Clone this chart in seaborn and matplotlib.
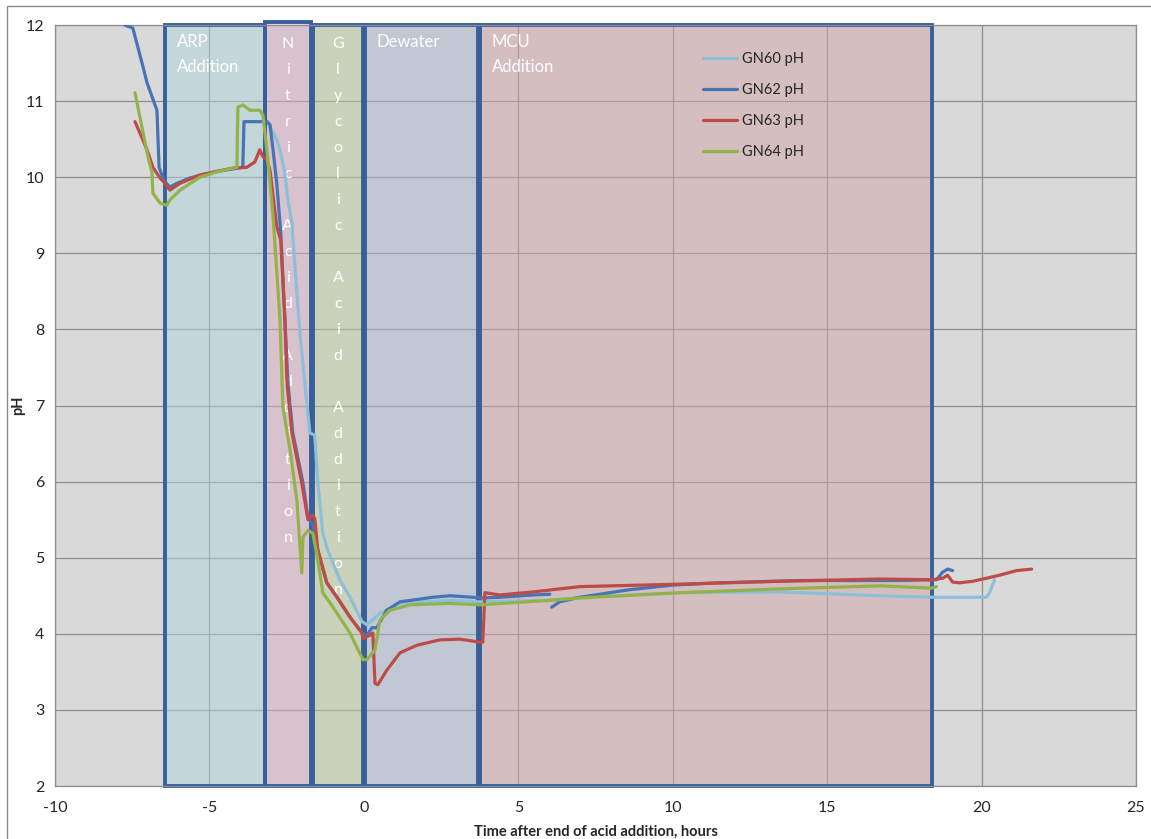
import numpy as np
import pandas as pd
import matplotlib
matplotlib.use("Agg")
import matplotlib.pyplot as plt
from matplotlib.patches import Rectangle
import seaborn as sns

# ---------------- data ----------------
series_names = ["GN60 pH", "GN62 pH", "GN63 pH", "GN64 pH"]

gn60_t = [-3.11, -2.82, -2.72, -2.56, -2.46, -2.33, -2.23, -2.07, -1.91, -1.75, -1.59, -1.49,
          -1.33, -1.17, -1.00, -0.78, -0.45, -0.06, 0.10, 0.36, 0.52, 1.17, 2.78, 3.75, 6.02,
          6.99, 10.23, 13.46, 16.70, 18.38, 20.16, 20.26, 20.42]
gn60_ph = [10.73, 10.49, 10.36, 10.06, 9.70, 9.40, 8.82, 7.95, 7.30, 6.64, 6.61, 5.98,
           5.32, 5.10, 4.93, 4.71, 4.48, 4.16, 4.12, 4.21, 4.27, 4.40, 4.44, 4.42, 4.44,
           4.48, 4.54, 4.55, 4.50, 4.48, 4.48, 4.54, 4.71]

gn62a_t = [-7.75, -7.48, -7.15, -7.02, -6.70, -6.63, -6.54, -6.44, -6.28, -6.05, -5.63, -4.82,
           -3.92, -3.88, -3.14, -3.04, -2.94, -2.82, -2.69, -2.56, -2.46, -2.30, -1.97, -1.81,
           -1.65, -1.49, -1.20, -0.87, -0.45, -0.06, 0.10, 0.26, 0.42, 0.74, 1.17, 2.23, 2.78,
           3.53, 3.82, 4.40, 5.47, 6.02]
gn62a_ph = [12.00, 11.96, 11.45, 11.24, 10.88, 10.13, 10.03, 9.94, 9.87, 9.92, 9.99, 10.07,
            10.13, 10.73, 10.73, 10.69, 10.36, 9.92, 9.27, 8.16, 7.30, 6.64, 5.98, 5.52,
            5.43, 5.10, 4.67, 4.48, 4.22, 4.01, 3.98, 4.08, 4.08, 4.31, 4.42, 4.48, 4.50,
            4.48, 4.47, 4.48, 4.51, 4.52]
gn62b_t = [6.08, 6.34, 6.99, 8.61, 10.00, 11.50, 14.10, 17.35, 18.38, 18.54, 18.74, 18.90, 19.06]
gn62b_ph = [4.35, 4.42, 4.48, 4.58, 4.64, 4.67, 4.70, 4.70, 4.71, 4.71, 4.81, 4.85, 4.83]

gn63_t = [-7.41, -7.25, -7.02, -6.83, -6.60, -6.44, -6.28, -5.95, -5.31, -4.24, -3.79, -3.53,
          -3.37, -3.27, -3.14, -3.04, -2.82, -2.69, -2.56, -2.49, -2.33, -2.01, -1.81, -1.68,
          -1.59, -1.49, -1.20, -0.87, -0.45, -0.06, -0.03, 0.19, 0.29, 0.36, 0.45, 0.74, 1.17,
          1.72, 2.46, 3.11, 3.75, 3.85, 3.92, 4.40, 5.47, 6.99, 10.00, 13.46, 16.70, 18.38,
          18.74, 18.90, 19.06, 19.29, 19.71, 20.16, 20.58, 21.13, 21.62]
gn63_ph = [10.73, 10.58, 10.36, 10.13, 9.99, 9.92, 9.83, 9.92, 10.03, 10.12, 10.13, 10.20,
           10.36, 10.27, 10.23, 10.09, 9.35, 9.17, 8.16, 7.30, 6.64, 5.98, 5.50, 5.56,
           5.52, 5.10, 4.67, 4.48, 4.22, 4.01, 3.94, 3.98, 4.01, 3.35, 3.33, 3.52, 3.75,
           3.85, 3.92, 3.93, 3.89, 3.89, 4.54, 4.51, 4.55, 4.62, 4.65, 4.69, 4.72, 4.71,
           4.73, 4.77, 4.68, 4.67, 4.69, 4.73, 4.77, 4.83, 4.85]

gn64_t = [-7.41, -7.25, -6.99, -6.86, -6.83, -6.60, -6.38, -6.28, -5.95, -5.31, -4.76, -4.11,
          -4.08, -3.92, -3.69, -3.37, -3.27, -3.14, -2.94, -2.72, -2.62, -2.39, -2.17, -2.01,
          -1.97, -1.81, -1.65, -1.49, -1.33, -1.00, -0.45, -0.03, 0.10, 0.36, 0.52, 0.84,
          1.49, 2.78, 3.75, 6.02, 6.99, 10.23, 13.46, 16.70, 18.38, 18.54]
gn64_ph = [11.11, 10.79, 10.27, 10.06, 9.79, 9.66, 9.63, 9.70, 9.83, 10.00, 10.07, 10.13,
           10.92, 10.95, 10.88, 10.88, 10.82, 10.36, 9.48, 8.16, 6.98, 6.42, 5.76, 4.80,
           5.27, 5.36, 5.32, 4.97, 4.54, 4.35, 4.01, 3.66, 3.66, 3.79, 4.18, 4.31,
           4.38, 4.40, 4.38, 4.44, 4.47, 4.54, 4.59, 4.63, 4.60, 4.62]

phase_labels = ["ARP\nAddition", "Nitric Acid Addition", "Glycolic Acid Addition",
                "Dewater", "MCU\nAddition"]
phase_start = [-6.44, -3.20, -1.65, 0.03, 3.75]
phase_end = [-3.20, -1.72, -0.03, 3.69, 18.38]
phase_top = [12.0, 12.04, 12.0, 12.0, 12.0]
phase_fill = ["#afd5db", "#d7adc5", "#bdcda1", "#abb9d1", "#d1a5a7"]
phase_vertical = [False, True, True, False, False]

x_ticks = [-10, -5, 0, 5, 10, 15, 20, 25]
y_ticks = [2, 3, 4, 5, 6, 7, 8, 9, 10, 11, 12]

palette = {"GN60 pH": "#8dbfd8", "GN62 pH": "#4774b4",
           "GN63 pH": "#be4b48", "GN64 pH": "#93b34a"}

# ---------------- frame ----------------
rows = []
def add(name, seg, ts, ps):
    for t, p in zip(ts, ps):
        rows.append({"t": t, "pH": p, "series": name, "seg": seg})
add("GN60 pH", "a", gn60_t, gn60_ph)
add("GN62 pH", "a", gn62a_t, gn62a_ph)
add("GN62 pH", "b", gn62b_t, gn62b_ph)
add("GN63 pH", "a", gn63_t, gn63_ph)
add("GN64 pH", "a", gn64_t, gn64_ph)
df = pd.DataFrame(rows)

# ---------------- figure ----------------
sns.set_style("white")
plt.rcParams["font.family"] = ["Lato", "DejaVu Sans"]
plt.rcParams["axes.unicode_minus"] = False

fig = plt.figure(figsize=(11.51, 8.39), dpi=100)
ax = fig.add_axes([55 / 1151, 1 - 786 / 839, 1081 / 1151, 761 / 839])
ax.set_facecolor("#d9d9d9")
ax.set_axisbelow(True)
ax.grid(True, color="#8e8e8e", linewidth=0.9, zorder=0.5)

for lab, s, e, top, fc, vert in zip(phase_labels, phase_start, phase_end, phase_top,
                                     phase_fill, phase_vertical):
    ax.add_patch(Rectangle((s, 2), e - s, top - 2, facecolor=fc, alpha=0.5,
                           edgecolor="none", zorder=1, clip_on=False))
    ax.add_patch(Rectangle((s, 2), e - s, top - 2, facecolor="none",
                           edgecolor="#37609a", linewidth=2.8, zorder=1.2, clip_on=False))
    if vert:
        txt = "\n".join(list(lab))
        ax.annotate(txt, xy=((s + e) / 2, 12), xytext=(0, -12), textcoords="offset pixels",
                    ha="center", va="top", color="white", fontsize=11.5, linespacing=2.09,
                    zorder=1.5)
    else:
        ax.annotate(lab, xy=(s, 12), xytext=(12, -9), textcoords="offset pixels",
                    ha="left", va="top", color="white", fontsize=12, linespacing=1.72,
                    zorder=1.5)

sns.lineplot(data=df, x="t", y="pH", hue="series", units="seg", estimator=None,
             sort=False, hue_order=series_names, palette=palette, linewidth=2.3,
             ax=ax, zorder=3)

ax.set_xlim(-10, 25)
ax.set_ylim(2, 12)
ax.set_xticks(x_ticks)
ax.set_yticks(y_ticks)
ax.tick_params(axis="both", labelsize=11.5, colors="#262626", length=4, direction="out",
               width=0.8)
ax.tick_params(axis="x", pad=7)
ax.tick_params(axis="both", color="#8e8e8e")
for sp in ax.spines.values():
    sp.set_color("#8e8e8e")
    sp.set_linewidth(0.9)

ax.set_xlabel("Time after end of acid addition, hours", fontsize=10.5, fontweight="bold",
              labelpad=7)
ax.set_ylabel("pH", fontsize=10.5, fontweight="bold", labelpad=0.5)

handles, labels = ax.get_legend_handles_labels()
ax.legend(handles, labels, loc="upper left", bbox_to_anchor=((703 - 55) / 1081, 0.965),
          frameon=False, fontsize=10.5, handlelength=2.3, handletextpad=0.4,
          labelspacing=1.18, borderaxespad=0, borderpad=0)

fig.patches.append(Rectangle((7 / 1151, -0.1), 1.2, 1.1 - 6 / 839, transform=fig.transFigure,
                             facecolor="none", edgecolor="#8a8a8a", linewidth=1.0))

fig.savefig("out.png", dpi=100)
